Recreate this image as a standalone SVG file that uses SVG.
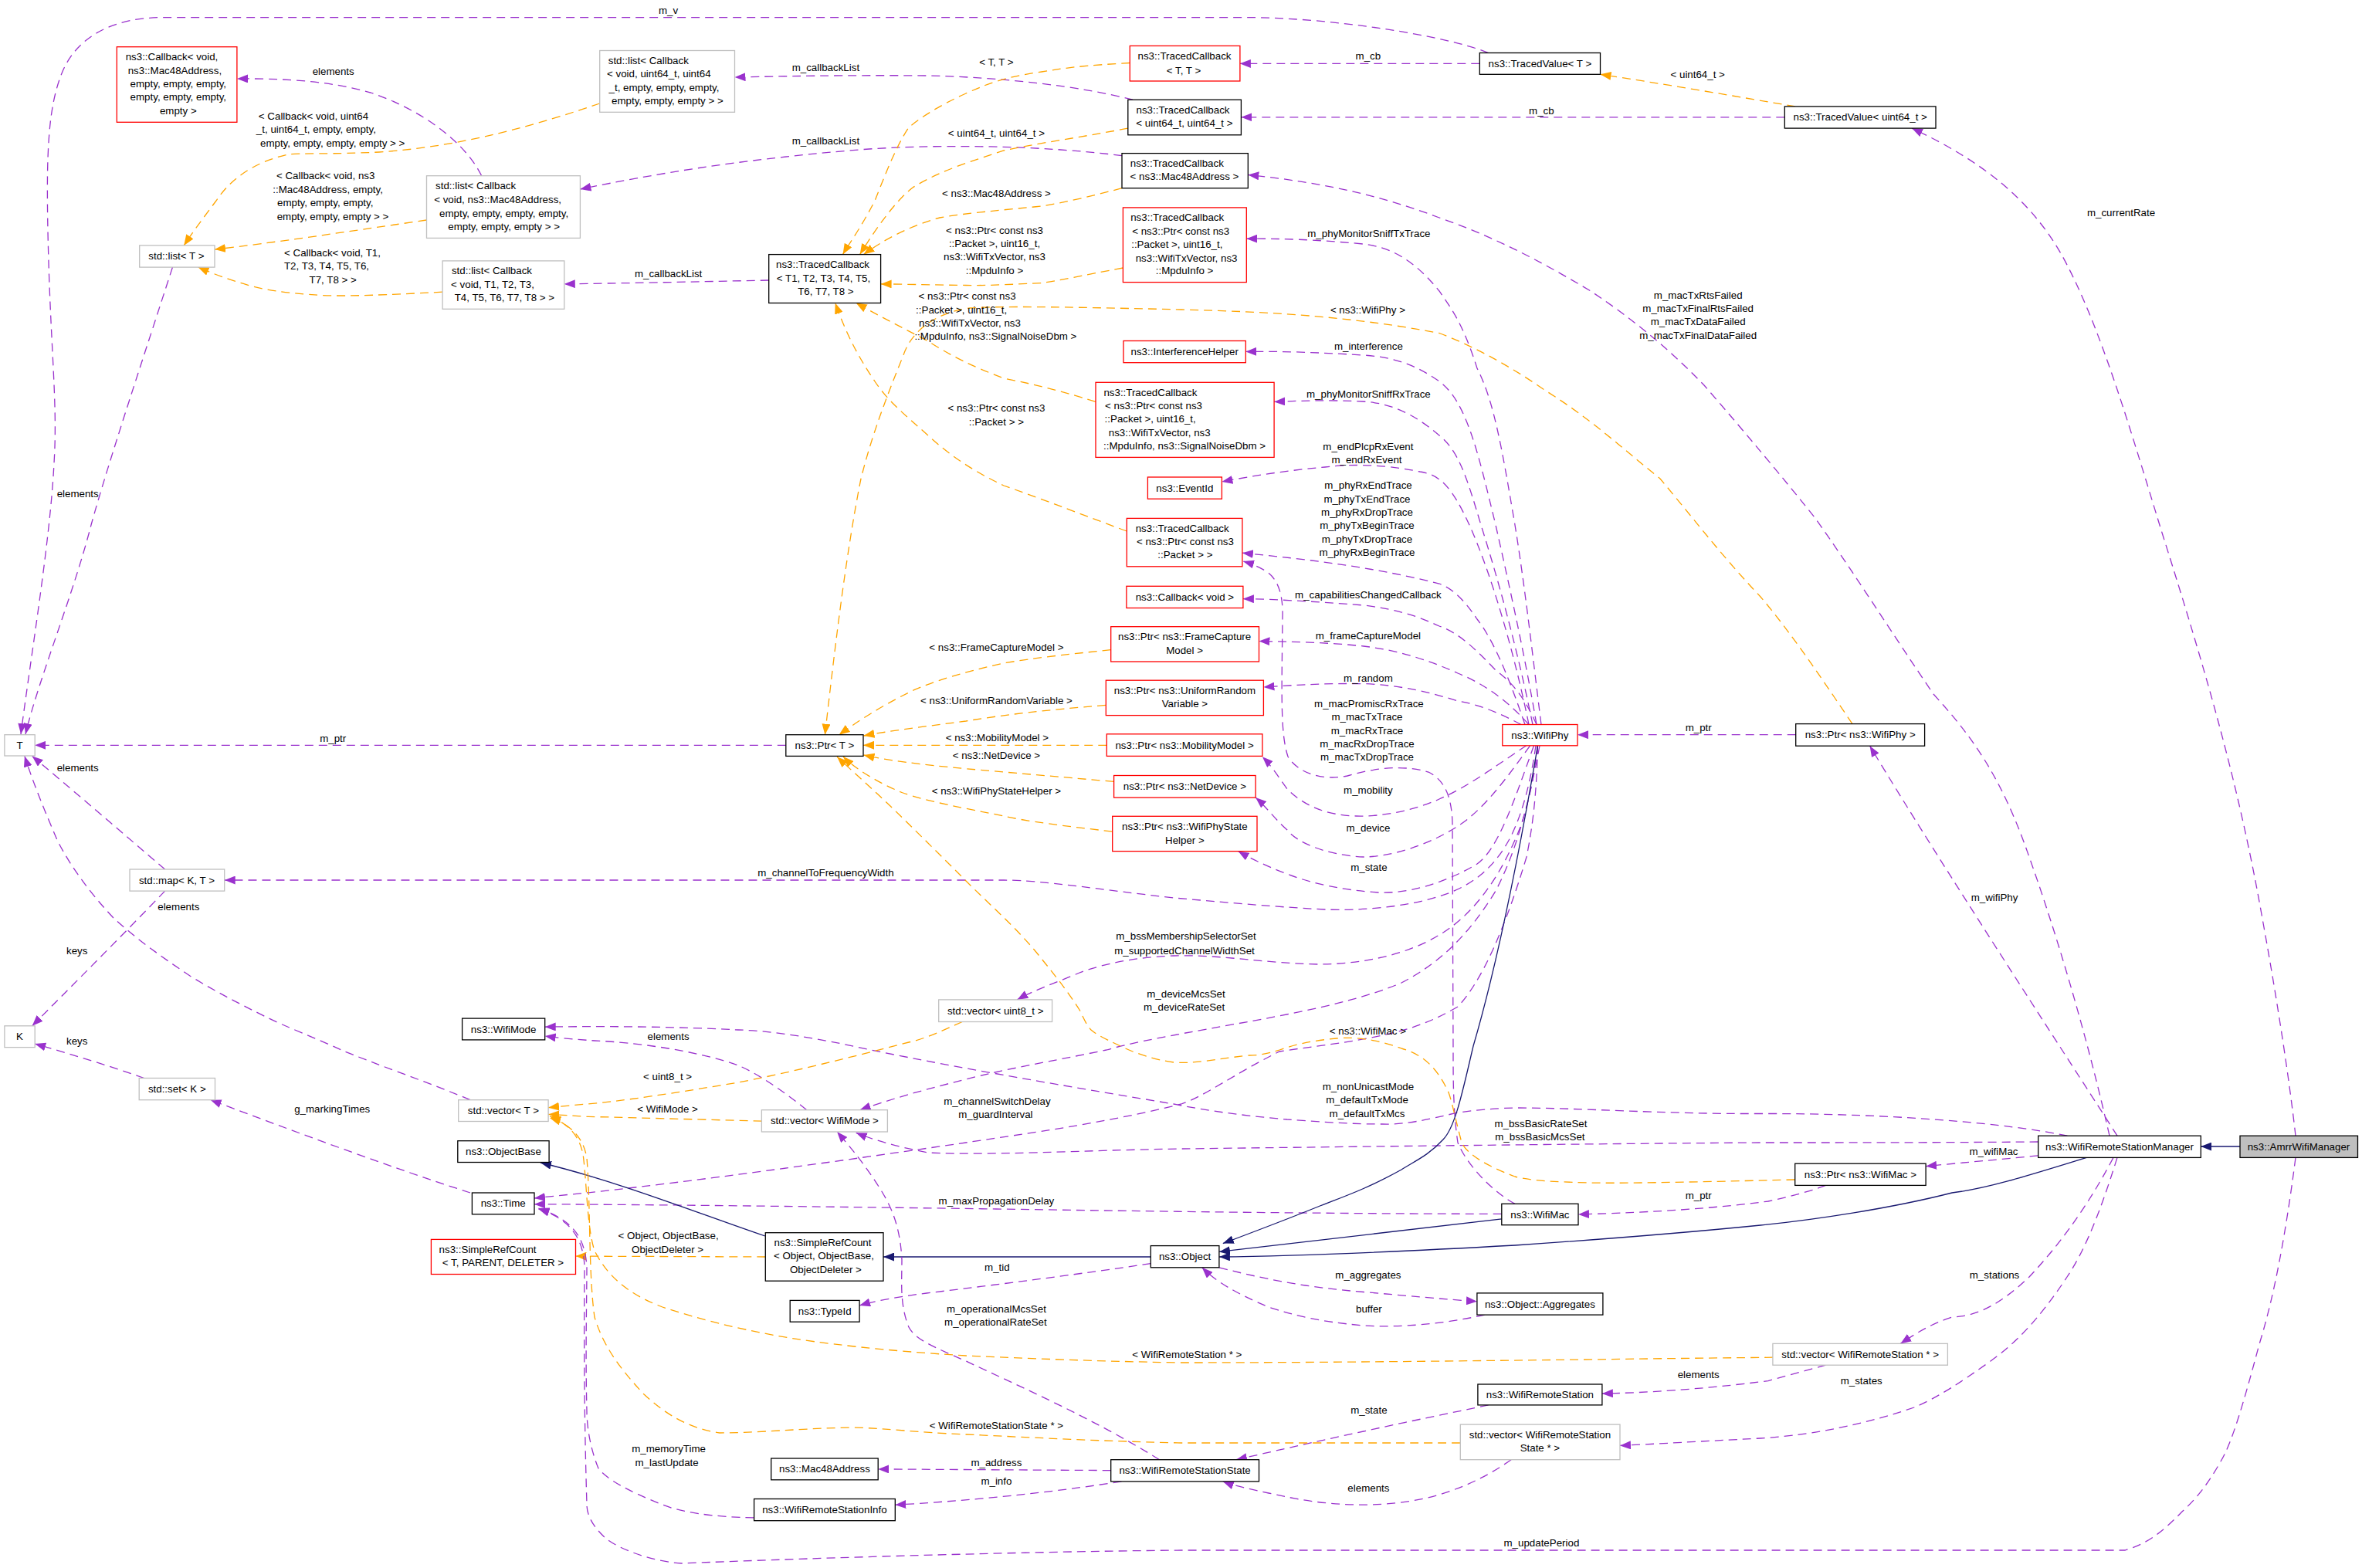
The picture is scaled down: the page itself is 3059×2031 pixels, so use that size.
<svg xmlns="http://www.w3.org/2000/svg" width="3059" height="2031" viewBox="0 0 3059 2031">
<style>
text{font-family:"Liberation Sans",Arial,Helvetica,sans-serif;font-size:13.33px;text-anchor:middle;dominant-baseline:central;fill:#000}
.b{fill:#fff;stroke:#000;stroke-width:1.3}
.r{fill:#fff;stroke:#f00;stroke-width:1.3}
.g{fill:#fff;stroke:#bfbfbf;stroke-width:1.3}
.h{fill:#bfbfbf;stroke:#000;stroke-width:1.3}
.p{fill:none;stroke:#9a32cd;stroke-width:1.3;stroke-dasharray:11,7;marker-end:url(#ap)}
.o{fill:none;stroke:#ffa500;stroke-width:1.3;stroke-dasharray:11,7;marker-end:url(#ao)}
.s{fill:none;stroke:#191970;stroke-width:1.3;marker-end:url(#as)}
</style>
<defs>
<marker id="ap" viewBox="0 0 14 11" refX="14" refY="5.5" markerWidth="14" markerHeight="11" markerUnits="userSpaceOnUse" orient="auto"><path d="M0,0L14,5.5L0,11z" fill="#9a32cd"/></marker>
<marker id="ao" viewBox="0 0 14 11" refX="14" refY="5.5" markerWidth="14" markerHeight="11" markerUnits="userSpaceOnUse" orient="auto"><path d="M0,0L14,5.5L0,11z" fill="#ffa500"/></marker>
<marker id="as" viewBox="0 0 14 11" refX="14" refY="5.5" markerWidth="14" markerHeight="11" markerUnits="userSpaceOnUse" orient="auto"><path d="M0,0L14,5.5L0,11z" fill="#191970"/></marker>
</defs>
<rect width="3059" height="2031" fill="#fff"/>
<g id="edges">
<path class="p" d="M1927.6,68.5 C1870,45 1720,23 1618,22.6 L211,22.6 C150,22.6 100,45 80,95 C62,140 60,200 62,300 C65,450 75,520 70,600 C65,700 40,850 27,951"/>
<path class="p" d="M223.5,346 C190,450 140,600 118,680 C95,770 50,880 33,951"/>
<path class="p" d="M623.7,227.7 C600,180 540,140 480,120 C420,103 360,101.9 307,101.9"/>
<path class="p" d="M1467,129.2 C1400,112 1300,100 1200,98 C1100,97 1000,99 951.5,100"/>
<path class="p" d="M1453,201.7 C1350,188 1200,186 1100,195 C950,208 850,225 751.4,245"/>
<path class="p" d="M995.7,363 C900,365 800,367 730.8,367.8"/>
<path class="p" d="M1916.3,82.4 L1605.9,82.4"/>
<path class="p" d="M2311.3,151.8 L1607.4,151.8"/>
<path class="o" d="M2325,138 C2250,125 2150,108 2072.5,96.3"/>
<path class="p" d="M2973,1471.2 C2965,1400 2950,1300 2930,1190 C2900,1020 2860,880 2800,690 C2760,560 2720,420 2670,330 C2630,260 2570,210 2476,166.1"/>
<path class="p" d="M2732,1471.2 C2700,1330 2660,1200 2628,1110 C2590,1000 2550,950 2504,899 C2450,820 2400,740 2350,670 C2310,620 2260,560 2207,499 C2160,450 2110,410 2060,377 C1990,335 1930,305 1864,282 C1780,250 1700,235 1616.3,226.4"/>
<path class="p" d="M2742,1471.2 C2710,1420 2520,1130 2421.6,966.2"/>
<path class="p" d="M2325.7,951.7 L2043,951.7"/>
<path class="o" d="M2399,937.6 C2360,880 2320,820 2280,773 C2230,720 2200,680 2150,620 C2100,580 2060,542 2000,505 C1950,470 1900,445 1864,431.5 C1750,410 1650,404 1530,401 C1400,398 1300,396 1256,399 C1210,405 1180,430 1170,460 C1150,510 1130,560 1115,620 C1095,720 1080,850 1068.4,951.7"/>
<path class="p" d="M1996,938.5 C1985,850 1975,760 1962,680 C1945,580 1935,520 1913,477 C1895,420 1880,400 1864,377 C1830,335 1800,320 1765,316 C1700,310 1660,309 1614.3,309.2"/>
<path class="p" d="M1990,938.5 C1975,850 1955,760 1937,680 C1915,590 1900,520 1864,494 C1830,470 1800,462 1765,460 C1700,456 1660,455 1613.3,455.4"/>
<path class="p" d="M1985,938.5 C1965,840 1940,750 1918,680 C1900,620 1890,585 1864,564 C1830,535 1800,522 1765,520 C1720,518 1690,519 1650.1,520.4"/>
<path class="p" d="M1980,938.5 C1960,840 1930,740 1903,680 C1880,630 1865,615 1839,611 C1790,601 1750,601 1716,605 C1660,610 1620,617 1582.4,624"/>
<path class="p" d="M1975,938.5 C1955,880 1935,830 1913,802 C1895,775 1880,762 1864,756 C1780,735 1700,725 1608.9,716.2"/>
<path class="p" d="M1962,1559.3 C1935,1545 1900,1510 1888,1480 C1882,1440 1882,1400 1882,1360 L1881,1066 C1880,1030 1870,1010 1850,1000 C1815,990 1780,995 1745,1005 C1710,1012 1680,1000 1668,980 C1658,950 1660,900 1661,800 C1662,770 1655,750 1640,740 C1630,734 1620,730 1610,727"/>
<path class="p" d="M1990,938.5 C1975,905 1960,885 1937,868 C1910,840 1890,820 1864,811 C1830,795 1800,788 1766,784 C1700,779 1650,776 1609.9,775.6"/>
<path class="p" d="M1980,938.5 C1950,905 1920,885 1888,872 C1850,855 1810,842 1766,837 C1720,832 1670,831 1630.5,830.6"/>
<path class="p" d="M1970,938.5 C1945,925 1915,912 1888,908 C1850,896 1810,887 1766,885.6 C1720,885 1680,887 1636.4,890"/>
<path class="p" d="M1976.7,965.8 C1940,990 1900,1020 1864,1035 C1830,1050 1790,1058 1756,1057 C1720,1056 1690,1045 1667,1022 C1655,1005 1645,990 1634.9,980.3"/>
<path class="p" d="M1981.6,965.8 C1950,1010 1920,1050 1888,1070 C1850,1095 1800,1110 1766,1110 C1720,1108 1680,1092 1667,1075 C1650,1060 1640,1045 1626.1,1033.1"/>
<path class="p" d="M1986.5,965.8 C1960,1040 1940,1100 1913,1119 C1870,1145 1820,1158 1785,1156 C1740,1153 1700,1145 1667,1132 C1640,1122 1620,1112 1603.5,1102.6"/>
<path class="p" d="M1989,965.8 C1980,1030 1965,1070 1952,1092 C1930,1130 1900,1150 1864,1161 C1820,1175 1760,1180 1716,1178 C1640,1174 1580,1168 1520,1163 C1430,1153 1350,1140 1300,1140 L290.7,1140"/>
<path class="p" d="M1991.5,965.8 C1985,1020 1975,1060 1962,1088 C1935,1150 1900,1190 1864,1211 C1820,1238 1760,1249 1707,1249 C1640,1248 1580,1236 1520,1238 C1470,1240 1430,1248 1398,1260 C1370,1272 1340,1282 1317.4,1294.9"/>
<path class="p" d="M1994,965.8 C1980,1040 1965,1100 1937,1154 C1900,1215 1860,1250 1815,1273 C1740,1305 1620,1322 1530,1339 C1480,1348 1450,1355 1433,1360 C1360,1375 1300,1385 1251,1398 C1190,1413 1150,1425 1113.6,1437.7"/>
<path class="p" d="M1991.5,965.8 C1990,1030 1985,1070 1977,1110 C1950,1200 1920,1270 1888,1304 C1860,1320 1840,1328 1815,1335 C1760,1350 1700,1355 1657,1362 C1600,1390 1560,1420 1530,1430 C1430,1455 1330,1468 1251,1480 C1080,1505 900,1530 760,1545 C730,1548 710,1550 692,1552"/>
<path class="p" d="M2677.4,1471.2 C2600,1455 2450,1442 2280,1442.5 C2150,1443 2050,1435 1962,1435 C1920,1436 1900,1440 1888,1441 C1850,1450 1820,1457 1790,1456 C1740,1456 1700,1452 1667,1450 C1620,1446 1570,1440 1520,1430 C1400,1410 1250,1385 1128,1360 C1060,1345 1000,1335 956,1334 C880,1330 800,1329 705.7,1330.1"/>
<path class="p" d="M2639.7,1479 C2500,1480 2400,1480 2280,1480 C2000,1482 1700,1486 1530,1488 C1400,1490 1280,1497 1202,1493 C1160,1485 1130,1476 1108.7,1467.3"/>
<path class="p" d="M2639.7,1496.8 C2590,1502 2540,1506 2494.1,1510.7"/>
<path class="p" d="M2364.5,1535.4 C2340,1545 2300,1554 2290,1556 C2220,1565 2150,1570 2044,1573"/>
<path class="o" d="M2324.7,1528 C2200,1531 2100,1533 2060,1532 C2020,1531 1985,1530 1962,1524 C1925,1510 1900,1495 1893,1480 C1885,1450 1880,1425 1876,1415 C1860,1380 1840,1365 1815,1358 C1780,1345 1750,1343 1731,1345 C1700,1348 1680,1352 1657,1360 C1640,1365 1630,1367 1618,1367 C1570,1372 1550,1378 1520,1376 C1490,1372 1465,1362 1447,1353 C1430,1345 1420,1340 1413,1334 C1405,1325 1402,1315 1398,1308 C1380,1280 1365,1262 1349,1242 C1320,1205 1285,1175 1251,1141 C1220,1110 1185,1075 1153,1044 C1130,1022 1105,1000 1084.1,980.3"/>
<path class="p" d="M1944.8,1572.4 C1700,1572 1500,1569 1290,1566 C1000,1562 800,1560 692,1559.8"/>
<path class="s" d="M1991.5,965.8 C1960,1150 1930,1280 1908,1355 C1895,1410 1885,1460 1869,1476 C1850,1497 1830,1505 1815,1515 C1770,1540 1740,1550 1707,1563 C1660,1582 1620,1597 1583.8,1610.6"/>
<path class="s" d="M1944.8,1578.9 C1800,1595 1680,1610 1578.9,1621.4"/>
<path class="s" d="M2702.3,1499.4 C2620,1525 2570,1540 2528,1545 C2450,1565 2350,1580 2280,1587 C2150,1600 2050,1607 1962,1613 C1800,1622 1680,1627 1578.9,1628"/>
<path class="s" d="M2901,1485 L2850.3,1485"/>
<path class="s" d="M1490.3,1628 L1144,1628"/>
<path class="s" d="M990.8,1601 C900,1570 800,1530 700,1506"/>
<path class="o" d="M991.3,1628 L745.5,1627.1"/>
<path class="p" d="M1490.3,1636.6 C1400,1650 1300,1663 1200,1675 C1160,1680 1130,1686 1113.1,1690.9"/>
<path class="p" d="M1578.9,1641.8 C1650,1660 1700,1668 1766,1673.5 C1820,1678 1870,1683 1912.9,1685.7"/>
<path class="p" d="M1922.7,1703.1 C1870,1715 1810,1720 1766,1717 C1710,1712 1680,1705 1643,1693 C1600,1675 1575,1660 1556.8,1641.8"/>
<path class="p" d="M1927.6,1819.9 C1880,1830 1820,1842 1766,1854 C1700,1868 1640,1882 1601,1890.7"/>
<path class="p" d="M1957.1,1890.7 C1930,1910 1900,1925 1864,1936 C1830,1946 1790,1950 1756,1949 C1710,1948 1680,1942 1643,1934 C1620,1929 1600,1925 1583.8,1918.9"/>
<path class="p" d="M2364.5,1768.2 C2340,1775 2310,1783 2290,1788.6 C2200,1800 2130,1804 2074.9,1805.1"/>
<path class="p" d="M2742,1499.4 C2720,1570 2700,1620 2677,1654 C2640,1710 2610,1740 2578,1763 C2540,1790 2510,1810 2479,1823 C2400,1850 2330,1860 2280,1863 C2200,1867 2150,1870 2098,1872.4"/>
<path class="p" d="M2737,1499.4 C2700,1570 2660,1620 2628,1654 C2590,1690 2560,1705 2528,1706 C2500,1715 2480,1728 2461.3,1740.4"/>
<path class="p" d="M1501.6,1890.7 C1420,1840 1330,1800 1251,1763 C1210,1745 1185,1735 1177,1719 C1165,1690 1168,1660 1168,1632 C1166,1590 1155,1565 1143,1545 C1125,1515 1105,1490 1084.1,1466"/>
<path class="p" d="M1438.7,1904.6 L1137.2,1902.9"/>
<path class="p" d="M1452.5,1918.9 C1350,1935 1250,1944 1159.3,1949.3"/>
<path class="p" d="M976.6,1965.8 C920,1965 880,1958 858,1949 C810,1930 785,1915 775,1902 C762,1870 760,1840 760,1828 C758,1750 760,1680 760,1640 C757,1600 740,1580 697.4,1565"/>
<path class="p" d="M2973,1499.4 C2960,1600 2945,1680 2926,1741 C2905,1820 2890,1870 2876,1893 C2855,1930 2840,1945 2826,1958 C2800,1985 2780,2000 2752,2008 L1530,2008 C1300,2010 1000,2020 883,2025 C840,2022 800,2005 785,1993 C765,1975 760,1960 760,1949 C757,1850 756,1750 757,1640 C755,1600 735,1578 697.4,1566"/>
<path class="p" d="M1044.8,1437.7 C1010,1410 980,1390 956,1380 C900,1360 820,1350 770,1348 C740,1346 720,1344 705.7,1342"/>
<path class="p" d="M609,1424.7 C550,1400 490,1380 442,1360 C410,1345 370,1330 344,1317 C310,1300 280,1285 246,1264 C210,1240 175,1215 147,1189 C115,1155 90,1120 74,1088 C60,1055 45,1020 31.9,979.4"/>
<path class="p" d="M213.6,1126 C160,1080 90,1020 41.7,979.4"/>
<path class="p" d="M213.6,1154.1 C160,1210 90,1280 41.7,1328.8"/>
<path class="p" d="M186.6,1396.5 C140,1380 90,1365 45.2,1352"/>
<path class="p" d="M609,1545 C500,1510 380,1465 272.6,1424.7"/>
<path class="p" d="M1017.8,965.3 L45.2,965.3"/>
<path class="o" d="M776.7,134 C700,160 600,190 491,197 C430,200 390,198 373,200 C330,210 300,230 280,260 C265,280 250,300 238.2,318"/>
<path class="o" d="M552.5,285 C450,300 350,315 278,323.1"/>
<path class="o" d="M573.1,378.2 C500,382 450,384 417,382.5 C370,380 340,375 319,368.6 C295,362 275,354 256.4,346.1"/>
<path class="o" d="M1463.3,81.5 C1400,85 1380,88 1349,93 C1300,100 1280,108 1251,121 C1220,135 1195,150 1177,165 C1160,190 1145,230 1133,260 C1115,295 1100,315 1091.5,329.6"/>
<path class="o" d="M1460.8,166.1 C1400,178 1340,186 1300,195 C1260,208 1215,222 1182,243 C1160,260 1135,295 1113.6,329.6"/>
<path class="o" d="M1453,243.7 C1410,255 1380,262 1349,267 C1300,272 1250,276 1217,282 C1180,292 1145,310 1118.5,329.6"/>
<path class="o" d="M1454.4,347 C1400,357 1370,364 1349,366.5 C1300,369 1270,370 1251,369.5 C1200,369 1170,368 1140.6,367.8"/>
<path class="o" d="M1419,520.4 C1370,505 1340,498 1300,490 C1260,475 1230,460 1202,442 C1170,425 1140,410 1108.7,392.5"/>
<path class="o" d="M1459.3,688 C1410,670 1360,650 1300,629 C1260,610 1230,590 1202,564 C1175,540 1150,520 1133,494 C1110,460 1095,430 1081.7,392.5"/>
<path class="o" d="M1438.7,841.6 C1380,848 1340,852 1300,859 C1250,870 1210,882 1182,894.5 C1140,915 1110,935 1086.6,951.7"/>
<path class="o" d="M1432.3,913.4 C1350,920 1300,926 1251,934 C1190,942 1150,947 1118.5,953"/>
<path class="o" d="M1433.3,965.3 L1118,965.3"/>
<path class="o" d="M1442.6,1012.4 C1370,1006 1300,1000 1251,995.7 C1190,990 1150,985 1118.5,978"/>
<path class="o" d="M1440.7,1077.1 C1380,1070 1330,1064 1300,1057 C1250,1047 1200,1038 1168,1026.5 C1140,1015 1110,998 1092,980"/>
<path class="o" d="M1246.2,1323.5 C1220,1335 1200,1345 1177,1350 C1100,1370 1020,1390 956,1402 C880,1415 800,1427 760,1430 C740,1432 725,1433 710.1,1434.7"/>
<path class="o" d="M986.4,1452.1 C900,1450 800,1447 760,1446.4 C740,1445 725,1444 710.1,1443.4"/>
<path class="o" d="M2295.9,1758.2 C2100,1760 1800,1765 1530,1765 C1400,1763 1300,1758 1251,1756 C1150,1750 1060,1740 1005.6,1730 C950,1720 900,1707 858,1693 C810,1675 785,1650 770,1620 C760,1590 760,1530 755,1495 C750,1470 735,1455 712,1446"/>
<path class="o" d="M1891.3,1869 C1700,1869 1600,1869 1530,1869 C1400,1866 1300,1860 1251,1858 C1180,1855 1150,1850 1104,1849 C1040,1850 980,1856 932,1856 C890,1850 860,1830 834,1806 C800,1770 780,1740 770,1706 C762,1650 765,1560 760,1500 C755,1470 735,1455 712,1448"/>
</g>
<g id="edge-labels">
<text x="865.6" y="13">m_v</text>
<text x="431.7" y="92.4">elements</text>
<text x="406" y="150.5">&lt; Callback&lt; void, uint64</text>
<text x="409.4" y="167.8">_t, uint64_t, empty, empty,</text>
<text x="430.7" y="185.2">empty, empty, empty, empty &gt; &gt;</text>
<text x="421.7" y="227.7">&lt; Callback&lt; void, ns3</text>
<text x="424.6" y="245">::Mac48Address, empty,</text>
<text x="421.2" y="262.8">empty, empty, empty,</text>
<text x="431" y="280.2">empty, empty, empty &gt; &gt;</text>
<text x="430.5" y="327.4">&lt; Callback&lt; void, T1,</text>
<text x="423" y="344.8">T2, T3, T4, T5, T6,</text>
<text x="431.2" y="362.6">T7, T8 &gt; &gt;</text>
<text x="100.7" y="639.7">elements</text>
<text x="1290.4" y="80.2">&lt; T, T &gt;</text>
<text x="1069.4" y="87.6">m_callbackList</text>
<text x="1290.4" y="172.6">&lt; uint64_t, uint64_t &gt;</text>
<text x="1069.4" y="182.2">m_callbackList</text>
<text x="1290.4" y="250.7">&lt; ns3::Mac48Address &gt;</text>
<text x="1288" y="298.8">&lt; ns3::Ptr&lt; const ns3</text>
<text x="1288" y="315.7">::Packet &gt;, uint16_t,</text>
<text x="1288" y="332.6">ns3::WifiTxVector, ns3</text>
<text x="1288" y="350.4">::MpduInfo &gt;</text>
<text x="1252.6" y="383.8">&lt; ns3::Ptr&lt; const ns3</text>
<text x="1245.2" y="401.2">::Packet &gt;, uint16_t,</text>
<text x="1256" y="418.5">ns3::WifiTxVector, ns3</text>
<text x="1289.4" y="435.9">::MpduInfo, ns3::SignalNoiseDbm &gt;</text>
<text x="1290.4" y="528.7">&lt; ns3::Ptr&lt; const ns3</text>
<text x="1290.4" y="546.5">::Packet &gt; &gt;</text>
<text x="865.6" y="354.8">m_callbackList</text>
<text x="1771.9" y="72.9">m_cb</text>
<text x="2198.7" y="96.3">&lt; uint64_t &gt;</text>
<text x="1996.4" y="143.1">m_cb</text>
<text x="1772.9" y="302.7">m_phyMonitorSniffTxTrace</text>
<text x="2199.2" y="382.5">m_macTxRtsFailed</text>
<text x="2199.2" y="399.4">m_macTxFinalRtsFailed</text>
<text x="2199.2" y="416.8">m_macTxDataFailed</text>
<text x="2199.2" y="434.1">m_macTxFinalDataFailed</text>
<text x="1771.4" y="401.2">&lt; ns3::WifiPhy &gt;</text>
<text x="1772.4" y="448.9">m_interference</text>
<text x="1772.4" y="510.9">m_phyMonitorSniffRxTrace</text>
<text x="1771.9" y="578.6">m_endPlcpRxEvent</text>
<text x="1770" y="595.9">m_endRxEvent</text>
<text x="1772" y="628.9">m_phyRxEndTrace</text>
<text x="1770.5" y="646.6">m_phyTxEndTrace</text>
<text x="1770.5" y="663.6">m_phyRxDropTrace</text>
<text x="1770.5" y="680.6">m_phyTxBeginTrace</text>
<text x="1770.5" y="698.6">m_phyTxDropTrace</text>
<text x="1770.5" y="715.8">m_phyRxBeginTrace</text>
<text x="2747" y="275.8">m_currentRate</text>
<text x="431.2" y="956.1">m_ptr</text>
<text x="100.7" y="994.8">elements</text>
<text x="231.3" y="1174.8">elements</text>
<text x="99.7" y="1231.6">keys</text>
<text x="99.7" y="1348.2">keys</text>
<text x="1290.4" y="838.6">&lt; ns3::FrameCaptureModel &gt;</text>
<text x="1290.4" y="907.7">&lt; ns3::UniformRandomVariable &gt;</text>
<text x="1291.4" y="955.6">&lt; ns3::MobilityModel &gt;</text>
<text x="1290.4" y="978.5">&lt; ns3::NetDevice &gt;</text>
<text x="1290.4" y="1024.3">&lt; ns3::WifiPhyStateHelper &gt;</text>
<text x="1069.4" y="1130.8">m_channelToFrequencyWidth</text>
<text x="1536" y="1212.6">m_bssMembershipSelectorSet</text>
<text x="1534" y="1231.1">m_supportedChannelWidthSet</text>
<text x="1536" y="1287.9">m_deviceMcsSet</text>
<text x="1533.6" y="1304.6">m_deviceRateSet</text>
<text x="865.6" y="1342.5">elements</text>
<text x="1771.9" y="770.8">m_capabilitiesChangedCallback</text>
<text x="1771.9" y="823.6">m_frameCaptureModel</text>
<text x="1771.9" y="878.6">m_random</text>
<text x="1772.9" y="911.6">m_macPromiscRxTrace</text>
<text x="1770.5" y="928.8">m_macTxTrace</text>
<text x="1770.5" y="946.8">m_macRxTrace</text>
<text x="1770.5" y="963.6">m_macRxDropTrace</text>
<text x="1770.5" y="980.7">m_macTxDropTrace</text>
<text x="1771.9" y="1023.8">m_mobility</text>
<text x="1771.9" y="1072.7">m_device</text>
<text x="1772.9" y="1123.7">m_state</text>
<text x="2199.7" y="942.9">m_ptr</text>
<text x="1771.4" y="1335.9">&lt; ns3::WifiMac &gt;</text>
<text x="2583" y="1162.9">m_wifiPhy</text>
<text x="430.2" y="1436.9">g_markingTimes</text>
<text x="864.6" y="1394.7">&lt; uint8_t &gt;</text>
<text x="864.6" y="1436.9">&lt; WifiMode &gt;</text>
<text x="1291.4" y="1426.4">m_channelSwitchDelay</text>
<text x="1289.4" y="1443.8">m_guardInterval</text>
<text x="1290.4" y="1555.9">m_maxPropagationDelay</text>
<text x="865.6" y="1600.6">&lt; Object, ObjectBase,</text>
<text x="864.6" y="1618.4">ObjectDeleter &gt;</text>
<text x="1291.4" y="1641">m_tid</text>
<text x="1290.4" y="1695.7">m_operationalMcsSet</text>
<text x="1289.4" y="1712.6">m_operationalRateSet</text>
<text x="1537.3" y="1754.8">&lt; WifiRemoteStation * &gt;</text>
<text x="1290.4" y="1846.4">&lt; WifiRemoteStationState * &gt;</text>
<text x="866.1" y="1876.8">m_memoryTime</text>
<text x="863.6" y="1894.6">m_lastUpdate</text>
<text x="1290.4" y="1894.6">m_address</text>
<text x="1290.4" y="1918.5">m_info</text>
<text x="1771.9" y="1407.3">m_nonUnicastMode</text>
<text x="1770.5" y="1424.7">m_defaultTxMode</text>
<text x="1770.5" y="1442.5">m_defaultTxMcs</text>
<text x="1995.4" y="1455.5">m_bssBasicRateSet</text>
<text x="1994.4" y="1472.9">m_bssBasicMcsSet</text>
<text x="2199.7" y="1548">m_ptr</text>
<text x="1771.9" y="1651.8">m_aggregates</text>
<text x="1772.9" y="1695.7">buffer</text>
<text x="2199.7" y="1780.8">elements</text>
<text x="1772.9" y="1826.9">m_state</text>
<text x="1772.4" y="1927.6">elements</text>
<text x="1996.4" y="1998.8">m_updatePeriod</text>
<text x="2582" y="1491.6">m_wifiMac</text>
<text x="2583" y="1651.8">m_stations</text>
<text x="2410.7" y="1788.6">m_states</text>
</g>
<g id="n_callback_mac"><rect class="r" x="151.3" y="60.7" width="155.6" height="97.6"/><text x="222.5" y="73.7">ns3::Callback&lt; void,</text><text x="226.4" y="91.1">ns3::Mac48Address,</text><text x="230.8" y="108.4">empty, empty, empty,</text><text x="230.8" y="125.8">empty, empty, empty,</text><text x="230.8" y="143.1">empty &gt;</text></g>
<g id="n_list_T"><rect class="g" x="180.7" y="317.9" width="97.3" height="28.2"/><text x="228.4" y="331.5">std::list&lt; T &gt;</text></g>
<g id="n_list_cb_mac"><rect class="g" x="552.5" y="227.7" width="198.9" height="80.7"/><text x="616.1" y="240.7">std::list&lt; Callback</text><text x="644.6" y="258.5">&lt; void, ns3::Mac48Address,</text><text x="652.6" y="276.3">empty, empty, empty, empty,</text><text x="652.6" y="293.2">empty, empty, empty &gt; &gt;</text></g>
<g id="n_list_cb_T"><rect class="g" x="573.1" y="337.9" width="157.7" height="62.4"/><text x="637" y="350.4">std::list&lt; Callback</text><text x="638" y="368.6">&lt; void, T1, T2, T3,</text><text x="653.4" y="385.6">T4, T5, T6, T7, T8 &gt; &gt;</text></g>
<g id="n_list_cb_u64"><rect class="g" x="776.7" y="65.5" width="174.8" height="79.8"/><text x="839.8" y="78.5">std::list&lt; Callback</text><text x="853.3" y="95.8">&lt; void, uint64_t, uint64</text><text x="860" y="113.2">_t, empty, empty, empty,</text><text x="864.4" y="130.5">empty, empty, empty &gt; &gt;</text></g>
<g id="n_tc_T1"><rect class="b" x="995.7" y="329.6" width="144.9" height="62.9"/><text x="1065.5" y="342.6">ns3::TracedCallback</text><text x="1066.5" y="360">&lt; T1, T2, T3, T4, T5,</text><text x="1069.4" y="377.3">T6, T7, T8 &gt;</text></g>
<g id="n_tc_TT"><rect class="r" x="1463.3" y="59.4" width="142.6" height="45.6"/><text x="1534" y="72.9">ns3::TracedCallback</text><text x="1533" y="91.1">&lt; T, T &gt;</text></g>
<g id="n_tc_u64"><rect class="b" x="1460.8" y="129.2" width="146.6" height="45.6"/><text x="1532" y="142.3">ns3::TracedCallback</text><text x="1533.9" y="159.6">&lt; uint64_t, uint64_t &gt;</text></g>
<g id="n_tc_mac"><rect class="b" x="1453" y="198.6" width="163.3" height="45.1"/><text x="1524.3" y="211.6">ns3::TracedCallback</text><text x="1534" y="228.6">&lt; ns3::Mac48Address &gt;</text></g>
<g id="n_tc_mpdu"><rect class="r" x="1454.4" y="268.9" width="159.9" height="96.7"/><text x="1524.7" y="281.9">ns3::TracedCallback</text><text x="1529.2" y="299.3">&lt; ns3::Ptr&lt; const ns3</text><text x="1524.3" y="316.6">::Packet &gt;, uint16_t,</text><text x="1536.6" y="334">ns3::WifiTxVector, ns3</text><text x="1534.1" y="350.4">::MpduInfo &gt;</text></g>
<g id="n_interf"><rect class="r" x="1455" y="441.5" width="158.3" height="28.2"/><text x="1534.2" y="455.6">ns3::InterferenceHelper</text></g>
<g id="n_tc_snd"><rect class="r" x="1419" y="495.3" width="231.1" height="97.1"/><text x="1489.9" y="508.7">ns3::TracedCallback</text><text x="1494" y="525.6">&lt; ns3::Ptr&lt; const ns3</text><text x="1489.7" y="542.6">::Packet &gt;, uint16_t,</text><text x="1501.7" y="560.8">ns3::WifiTxVector, ns3</text><text x="1534.1" y="577.7">::MpduInfo, ns3::SignalNoiseDbm &gt;</text></g>
<g id="n_eventid"><rect class="r" x="1486.4" y="618" width="96" height="28.2"/><text x="1534.4" y="632.1">ns3::EventId</text></g>
<g id="n_tc_pkt"><rect class="r" x="1459.3" y="671.4" width="149.6" height="62.4"/><text x="1531.2" y="684.5">ns3::TracedCallback</text><text x="1534.9" y="701.7">&lt; ns3::Ptr&lt; const ns3</text><text x="1534.9" y="718.4">::Packet &gt; &gt;</text></g>
<g id="n_cb_void"><rect class="r" x="1458.9" y="759.3" width="151" height="28.2"/><text x="1534.4" y="773.4">ns3::Callback&lt; void &gt;</text></g>
<g id="n_ptr_fcm"><rect class="r" x="1438.7" y="811.7" width="191.8" height="45.3"/><text x="1534.1" y="824.9">ns3::Ptr&lt; ns3::FrameCapture</text><text x="1534.1" y="842.5">Model &gt;</text></g>
<g id="n_ptr_urv"><rect class="r" x="1432.3" y="881.2" width="204.1" height="45.4"/><text x="1534.4" y="894.5">ns3::Ptr&lt; ns3::UniformRandom</text><text x="1534.4" y="911.2">Variable &gt;</text></g>
<g id="n_ptr_mob"><rect class="r" x="1433.3" y="950.8" width="201.6" height="28.6"/><text x="1534.1" y="965">ns3::Ptr&lt; ns3::MobilityModel &gt;</text></g>
<g id="n_ptr_nd"><rect class="r" x="1442.6" y="1004.5" width="183.5" height="28.6"/><text x="1534.4" y="1018.6">ns3::Ptr&lt; ns3::NetDevice &gt;</text></g>
<g id="n_ptr_psh"><rect class="r" x="1440.7" y="1057.3" width="187.3" height="45.3"/><text x="1534.4" y="1070.5">ns3::Ptr&lt; ns3::WifiPhyState</text><text x="1534.4" y="1088.1">Helper &gt;</text></g>
<g id="n_tv_T"><rect class="b" x="1916.3" y="68.5" width="156.2" height="27.8"/><text x="1994.4" y="82.2">ns3::TracedValue&lt; T &gt;</text></g>
<g id="n_tv_u64"><rect class="b" x="2311.3" y="137.9" width="195.7" height="28.2"/><text x="2409.2" y="151.8">ns3::TracedValue&lt; uint64_t &gt;</text></g>
<g id="n_wifiphy"><rect class="r" x="1945.8" y="938.5" width="97.2" height="27.3"/><text x="1994.4" y="952">ns3::WifiPhy</text></g>
<g id="n_ptr_wifiphy"><rect class="b" x="2325.7" y="937.6" width="166.9" height="28.6"/><text x="2409.2" y="951.8">ns3::Ptr&lt; ns3::WifiPhy &gt;</text></g>
<g id="n_T"><rect class="g" x="5.9" y="951.7" width="39.3" height="27.3"/><text x="25.5" y="965.3">T</text></g>
<g id="n_ptr_T"><rect class="b" x="1017.8" y="951.7" width="100.2" height="27.7"/><text x="1067.9" y="965.5">ns3::Ptr&lt; T &gt;</text></g>
<g id="n_map"><rect class="g" x="168" y="1126" width="122.7" height="28.1"/><text x="228.9" y="1140">std::map&lt; K, T &gt;</text></g>
<g id="n_K"><rect class="g" x="5.9" y="1328.8" width="39.3" height="27.8"/><text x="25.5" y="1342.6">K</text></g>
<g id="n_wifimode"><rect class="b" x="598.6" y="1319.1" width="107.1" height="27.8"/><text x="652.1" y="1333">ns3::WifiMode</text></g>
<g id="n_vec_u8"><rect class="g" x="1215.7" y="1294.9" width="146.9" height="28.6"/><text x="1289.2" y="1309.2">std::vector&lt; uint8_t &gt;</text></g>
<g id="n_set"><rect class="g" x="180.2" y="1396.5" width="98.3" height="28.2"/><text x="229.3" y="1410.6">std::set&lt; K &gt;</text></g>
<g id="n_vec_T"><rect class="g" x="593.7" y="1424.7" width="116.4" height="27.8"/><text x="651.9" y="1438.6">std::vector&lt; T &gt;</text></g>
<g id="n_objbase"><rect class="b" x="592.8" y="1477.7" width="118.3" height="27.8"/><text x="651.9" y="1491.6">ns3::ObjectBase</text></g>
<g id="n_time"><rect class="b" x="611.4" y="1545" width="80.6" height="27.8"/><text x="651.7" y="1558.9">ns3::Time</text></g>
<g id="n_src_T"><rect class="r" x="558.4" y="1605.4" width="187.1" height="45.1"/><text x="631.6" y="1618.4">ns3::SimpleRefCount</text><text x="651.5" y="1635.8">&lt; T, PARENT, DELETER &gt;</text></g>
<g id="n_vec_wm"><rect class="g" x="986.4" y="1437.7" width="163" height="28.3"/><text x="1067.9" y="1451.8">std::vector&lt; WifiMode &gt;</text></g>
<g id="n_src_obj"><rect class="b" x="991.3" y="1596.7" width="152.7" height="62.5"/><text x="1065.5" y="1609.3">ns3::SimpleRefCount</text><text x="1066.9" y="1626.6">&lt; Object, ObjectBase,</text><text x="1069.4" y="1644.5">ObjectDeleter &gt;</text></g>
<g id="n_typeid"><rect class="b" x="1023.2" y="1684.4" width="89.9" height="27.8"/><text x="1068.2" y="1698.3">ns3::TypeId</text></g>
<g id="n_mac48"><rect class="b" x="998.7" y="1889" width="138.5" height="27.8"/><text x="1067.9" y="1902.9">ns3::Mac48Address</text></g>
<g id="n_rsinfo"><rect class="b" x="976.6" y="1941.5" width="182.7" height="28.2"/><text x="1067.9" y="1955.6">ns3::WifiRemoteStationInfo</text></g>
<g id="n_object"><rect class="b" x="1490.3" y="1613.6" width="88.6" height="28.2"/><text x="1534.6" y="1627.7">ns3::Object</text></g>
<g id="n_rsstate"><rect class="b" x="1438.7" y="1890.7" width="191.8" height="28.2"/><text x="1534.6" y="1904.8">ns3::WifiRemoteStationState</text></g>
<g id="n_wifimac"><rect class="b" x="1944.8" y="1559.3" width="99.2" height="27.4"/><text x="1994.4" y="1573">ns3::WifiMac</text></g>
<g id="n_aggr"><rect class="b" x="1912.9" y="1674.9" width="163" height="28.2"/><text x="1994.4" y="1689">ns3::Object::Aggregates</text></g>
<g id="n_rs"><rect class="b" x="1913.9" y="1793" width="161" height="26.9"/><text x="1994.4" y="1806.4">ns3::WifiRemoteStation</text></g>
<g id="n_vec_rss"><rect class="g" x="1891.3" y="1845.1" width="206.7" height="45.6"/><text x="1994.4" y="1858.1">std::vector&lt; WifiRemoteStation</text><text x="1994.4" y="1875.5">State * &gt;</text></g>
<g id="n_manager"><rect class="b" x="2639.7" y="1471.2" width="210.6" height="28.2"/><text x="2745" y="1485.3">ns3::WifiRemoteStationManager</text></g>
<g id="n_amrr"><rect class="h" x="2901" y="1471.2" width="152.5" height="28.2"/><text x="2977" y="1485.3">ns3::AmrrWifiManager</text></g>
<g id="n_ptr_wifimac"><rect class="b" x="2324.7" y="1507.2" width="169.4" height="28.2"/><text x="2409.4" y="1521.3">ns3::Ptr&lt; ns3::WifiMac &gt;</text></g>
<g id="n_vec_rs"><rect class="g" x="2295.9" y="1740.4" width="226.5" height="27.8"/><text x="2409.2" y="1754.3">std::vector&lt; WifiRemoteStation * &gt;</text></g>
</svg>
